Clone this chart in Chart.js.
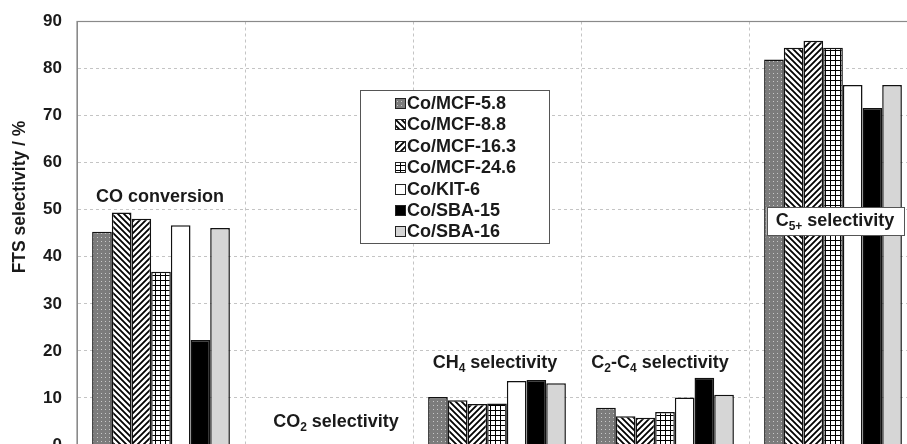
<!DOCTYPE html>
<html>
<head>
<meta charset="utf-8">
<title>FTS selectivity</title>
<script src="https://cdn.jsdelivr.net/npm/chart.js@4.4.1/dist/chart.umd.min.js"></script>
<style>
  html, body { margin: 0; padding: 0; background: #fff; overflow: hidden; }
  #wrap { width: 907px; height: 444px; overflow: hidden; position: relative; }
  canvas { position: absolute; left: 0; top: 0; }
</style>
</head>
<body>
<div id="wrap">
  <canvas id="chart" width="930" height="471"></canvas>
</div>
<script>
// product groups along the x axis
const categories = ["CO conversion", "CO2 selectivity", "CH4 selectivity", "C2-C4 selectivity", "C5+ selectivity"];

// catalysts (legend order)
const catalysts = ["Co/MCF-5.8", "Co/MCF-8.8", "Co/MCF-16.3", "Co/MCF-24.6", "Co/KIT-6", "Co/SBA-15", "Co/SBA-16"];

// values in %, one per group
const mcf58  = [45.3, 0, 10.2, 7.9, 81.9];
const mcf88  = [49.4, 0, 9.5, 6.1, 84.4];
const mcf163 = [48.1, 0, 8.7, 5.8, 85.9];
const mcf246 = [36.8, 0, 8.8, 7.0, 84.4];
const kit6   = [46.7, 0, 13.6, 10.1, 76.5];
const sba15  = [22.3, 0, 13.8, 14.3, 71.6];
const sba16  = [46.1, 0, 13.1, 10.7, 76.5];

const yTicks = [0, 10, 20, 30, 40, 50, 60, 70, 80, 90];
const yTitle = "FTS selectivity / %";

const FONT = '"Liberation Sans", Arial, sans-serif';
const INK = "#1a1a1a";

// --- fill patterns ---------------------------------------------------------
function tile(size, draw) {
  const c = document.createElement("canvas");
  c.width = size; c.height = size;
  const g = c.getContext("2d");
  draw(g, size);
  return g.createPattern(c, "repeat");
}

const dotFill = tile(4, (g, s) => {
  g.fillStyle = "#7c7c7c"; g.fillRect(0, 0, s, s);
  g.fillStyle = "#c9c9c9"; g.fillRect(1, 1, 1, 1);
});

const backFill = tile(6, (g, s) => {   // "\" stripes
  g.fillStyle = "#fff"; g.fillRect(0, 0, s, s);
  g.strokeStyle = "#000"; g.lineWidth = 1.8;
  g.beginPath();
  g.moveTo(-1, -1); g.lineTo(s + 1, s + 1);
  g.moveTo(-1, s - 1); g.lineTo(1, s + 1);
  g.moveTo(s - 1, -1); g.lineTo(s + 1, 1);
  g.stroke();
});

const fwdFill = tile(6, (g, s) => {    // "/" stripes
  g.fillStyle = "#fff"; g.fillRect(0, 0, s, s);
  g.strokeStyle = "#000"; g.lineWidth = 1.8;
  g.beginPath();
  g.moveTo(-1, s + 1); g.lineTo(s + 1, -1);
  g.moveTo(-1, 1); g.lineTo(1, -1);
  g.moveTo(s - 1, s + 1); g.lineTo(s + 1, s - 1);
  g.stroke();
});

const gridFill = tile(5, (g, s) => {
  g.fillStyle = "#fff"; g.fillRect(0, 0, s, s);
  g.fillStyle = "#000";
  g.fillRect(0, 0, s, 1);
  g.fillRect(0, 0, 1, s);
});

const fills = [dotFill, backFill, fwdFill, gridFill, "#ffffff", "#000000", "#d6d6d6"];
const series = [mcf58, mcf88, mcf163, mcf246, kit6, sba15, sba16];

// --- text helpers ------------------------------------------------------------
// parts: [text, isSubscript]
function richWidth(ctx, parts, size) {
  let w = 0;
  parts.forEach(([t, sub]) => {
    ctx.font = "bold " + (sub ? Math.round(size * 0.68) : size) + "px " + FONT;
    w += ctx.measureText(t).width;
  });
  return w;
}

function drawRich(ctx, parts, cx, cy, size) {
  let x = cx - richWidth(ctx, parts, size) / 2;
  ctx.textBaseline = "middle";
  ctx.textAlign = "left";
  ctx.fillStyle = INK;
  parts.forEach(([t, sub]) => {
    ctx.font = "bold " + (sub ? Math.round(size * 0.68) : size) + "px " + FONT;
    ctx.fillText(t, x, sub ? cy + size * 0.3 : cy);
    x += ctx.measureText(t).width;
  });
}

// group captions: category index, y value, x nudge, boxed
const captions = [
  { i: 0, y: 52.8, dx: -1, parts: [["CO conversion", false]] },
  { i: 1, y: 4.9, dx: 7, parts: [["CO", false], ["2", true], [" selectivity", false]] },
  { i: 2, y: 17.4, dx: -2, parts: [["CH", false], ["4", true], [" selectivity", false]] },
  { i: 3, y: 17.4, dx: -5, parts: [["C", false], ["2", true], ["-C", false], ["4", true], [" selectivity", false]] },
  { i: 4, y: 47.6, dx: 2, boxed: true, parts: [["C", false], ["5+", true], [" selectivity", false]] }
];

const captionPlugin = {
  id: "captions",
  afterDatasetsDraw(chart) {
    const ctx = chart.ctx;
    const xs = chart.scales.x, ys = chart.scales.y;
    ctx.save();
    captions.forEach(c => {
      const cx = xs.getPixelForValue(c.i) + c.dx;
      const cy = ys.getPixelForValue(c.y);
      if (c.boxed) {
        const w = richWidth(ctx, c.parts, 18) + 18;
        ctx.fillStyle = "#fff";
        ctx.fillRect(cx - w / 2, cy - 14, w, 28);
        ctx.strokeStyle = "#555";
        ctx.lineWidth = 1;
        ctx.strokeRect(Math.round(cx - w / 2) + 0.5, Math.round(cy - 14) + 0.5, Math.round(w), 28);
      }
      drawRich(ctx, c.parts, cx, cy, 18);
    });
    ctx.restore();
  }
};

// boxed legend inside the plot
const boxLegend = {
  id: "boxLegend",
  afterDatasetsDraw(chart) {
    const ctx = chart.ctx;
    const left = 360, top = 90, w = 189, h = 153;
    ctx.save();
    ctx.fillStyle = "#fff";
    ctx.fillRect(left, top, w, h);
    ctx.strokeStyle = "#555";
    ctx.lineWidth = 1;
    ctx.strokeRect(left + 0.5, top + 0.5, w, h);
    ctx.font = "bold 18px " + FONT;
    ctx.textBaseline = "middle";
    ctx.textAlign = "left";
    chart.data.datasets.forEach((ds, k) => {
      const cy = top + 13 + k * 21.4;
      ctx.fillStyle = ds.backgroundColor;
      ctx.fillRect(395, Math.round(cy - 5), 10, 10);
      ctx.strokeStyle = "#222";
      ctx.strokeRect(395.5, Math.round(cy - 5) + 0.5, 10, 10);
      ctx.fillStyle = INK;
      ctx.fillText(ds.label, 407, cy + 1);
    });
    ctx.restore();
  }
};

// solid frame round the plot area, plus the rotated axis title
const frame = {
  id: "frame",
  afterDraw(chart) {
    const a = chart.chartArea, ctx = chart.ctx;
    ctx.save();
    ctx.strokeStyle = "#8a8a8a";
    ctx.lineWidth = 1.2;
    ctx.strokeRect(a.left, a.top, a.right - a.left, a.bottom - a.top);
    ctx.translate(20, 197);
    ctx.rotate(-Math.PI / 2);
    ctx.font = "bold 17.5px " + FONT;
    ctx.fillStyle = INK;
    ctx.textAlign = "center";
    ctx.textBaseline = "middle";
    ctx.fillText(yTitle, 0, 0);
    ctx.restore();
  }
};

new Chart(document.getElementById("chart"), {
  type: "bar",
  data: {
    labels: categories,
    datasets: catalysts.map((name, k) => ({
      label: name,
      data: series[k],
      backgroundColor: fills[k],
      borderColor: "#111",
      borderWidth: 1.5,
      borderSkipped: "bottom",
      categoryPercentage: 0.82,
      barPercentage: 1.0
    }))
  },
  options: {
    responsive: false,
    animation: false,
    layout: { padding: { top: 21.5, right: 13, bottom: 26, left: 0 } },
    plugins: {
      legend: { display: false },
      tooltip: { enabled: false }
    },
    scales: {
      x: {
        afterFit: s => { s.height = 0; },
        ticks: { display: false },
        grid: { color: "#c4c4c4", drawTicks: false, offset: true },
        border: { dash: [3, 3], color: "#8a8a8a" }
      },
      y: {
        min: 0,
        max: 90,
        afterBuildTicks: s => { s.ticks = yTicks.map(v => ({ value: v })); },
        afterFit: s => { s.width = 77; s.paddingTop = 0; s.paddingBottom = 0; },
        ticks: {
          padding: 15,
          color: INK,
          font: { family: FONT, size: 17, weight: "bold" }
        },
        grid: { color: "#c4c4c4", drawTicks: false },
        border: { dash: [3, 3], color: "#8a8a8a" }
      }
    }
  },
  plugins: [captionPlugin, boxLegend, frame]
});
</script>
</body>
</html>
